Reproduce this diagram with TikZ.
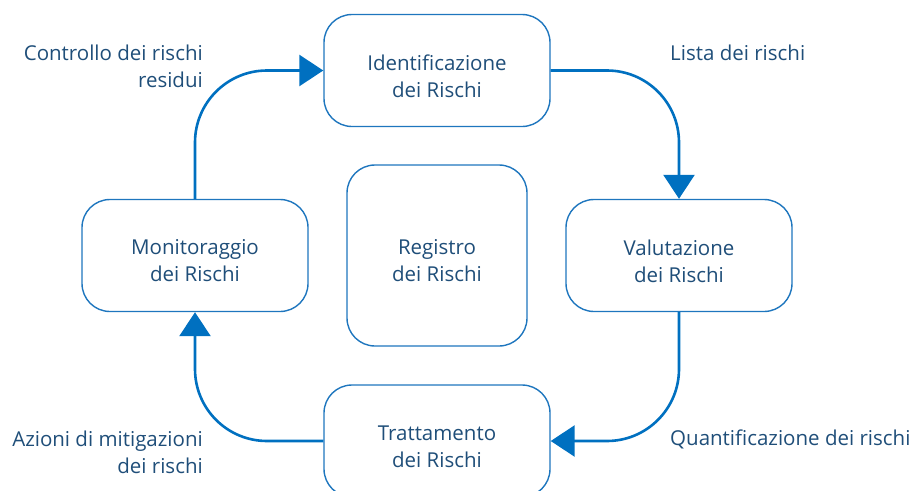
\documentclass[tikz,border=0pt]{standalone}
\usepackage{fontspec}
\setmainfont{Open Sans}
\usetikzlibrary{arrows.meta}
\definecolor{txt}{RGB}{31,78,121}
\definecolor{lineblue}{RGB}{0,112,192}
\definecolor{boxblue}{RGB}{30,118,190}
\tikzset{
  stepbox/.style={draw=boxblue, line width=1.4pt, rounded corners=28pt, fill=white,
    minimum width=226pt, minimum height=112pt},
  boxtext/.style={align=center, text=txt, font=\fontsize{20.5}{27}\selectfont, inner sep=0pt},
  conn/.style={draw=lineblue, line width=2.6pt, rounded corners=72pt,
    -{Triangle[width=31pt,length=24pt]}},
  lbl/.style={text=txt, font=\fontsize{20.5}{27}\selectfont, inner sep=0pt}
}
\begin{document}
\begin{tikzpicture}[x=1pt,y=-1pt]
\useasboundingbox (0,0) rectangle (913,490);
\node[stepbox] (ident) at (437,70.5) {};
\node[stepbox] (valut) at (679,255.5) {};
\node[stepbox] (tratt) at (437,441) {};
\node[stepbox] (monit) at (195,255.5) {};
\node[stepbox, minimum width=180pt, minimum height=181pt] (reg) at (437,255.5) {};

\node[boxtext] (identT) at (437,76) {Identificazione\\dei Rischi};
\node[boxtext] (valutT) at (679,261) {Valutazione\\dei Rischi};
\node[boxtext] (trattT) at (437,446.5) {Trattamento\\dei Rischi};
\node[boxtext] (monitT) at (195,261) {Monitoraggio\\dei Rischi};
\node[boxtext] (regT) at (437,261) {Registro\\dei Rischi};

\draw[conn] (ident.east) -| (valut.north);
\draw[conn] (valut.south) |- (tratt.east);
\draw[conn] (tratt.west) -| (monit.south);
\draw[conn] (monit.north) |- (ident.west);

\node[lbl, anchor=west] (l1) at (670,53) {Lista dei rischi};
\node[lbl, anchor=west] (l2) at (670,439) {Quantificazione dei rischi};
\node[lbl, anchor=east, align=right] (l3) at (203,66.5) {Controllo dei rischi\\residui};
\node[lbl, anchor=east, align=right] (l4) at (203,452.5) {Azioni di mitigazioni\\dei rischi};
\end{tikzpicture}
\end{document}
